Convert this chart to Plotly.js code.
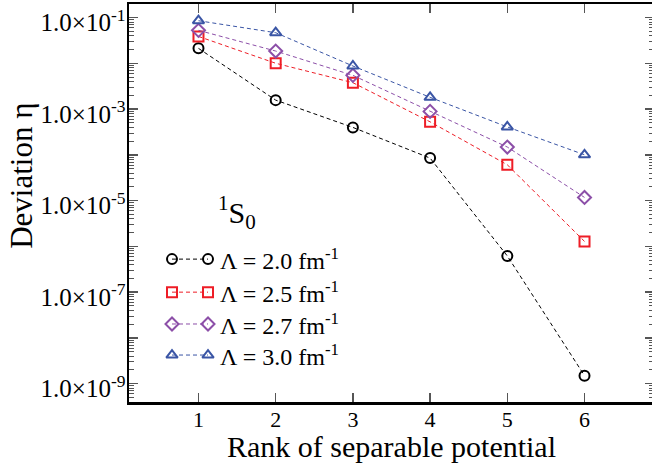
<!DOCTYPE html>
<html><head><meta charset="utf-8">
<script src="https://cdn.plot.ly/plotly-3.0.1.min.js"></script>
<style>html,body{margin:0;padding:0;overflow:hidden;background:#fff}</style>
</head><body><div id="chart"></div>
<script>
const ranks = [1, 2, 3, 4, 5, 6];
const seriesNames = ['Λ = 2.0 fm<sup>-1</sup>', 'Λ = 2.5 fm<sup>-1</sup>', 'Λ = 2.7 fm<sup>-1</sup>', 'Λ = 3.0 fm<sup>-1</sup>'];
const eta_L20 = [0.0214, 1.58e-3, 4.0e-4, 8.55e-5, 6.2e-7, 1.5e-9];
const eta_L25 = [0.039, 0.0101, 3.8e-3, 5.3e-4, 6.1e-5, 1.29e-6];
const eta_L27 = [0.053, 0.0187, 5.5e-3, 8.97e-4, 1.49e-4, 1.18e-5];
const eta_L30 = [0.086, 0.047, 8.8e-3, 1.82e-3, 4.1e-4, 1.01e-4];
const decadeExps = [-9, -8, -7, -6, -5, -4, -3, -2, -1];

const seriesData = [eta_L20, eta_L25, eta_L27, eta_L30];
const colors = ['#000000', '#ee1d26', '#8c4fa8', '#3a55a5'];
const symbols = ['circle-open', 'square-open', 'diamond-open', 'triangle-up-open'];
const FONT = 'Liberation Serif, Times New Roman, serif';

const traces = [];
seriesData.forEach((d, i) => {
  traces.push({
    x: ranks, y: d, type: 'scatter', mode: 'lines+markers', name: seriesNames[i],
    line: {color: colors[i], width: 1, dash: '4px,3px'},
    marker: {symbol: symbols[i], size: 10, color: colors[i], line: {color: colors[i], width: 2}},
    showlegend: false, hoverinfo: 'skip'
  });
});

// custom legend (two markers joined by a dashed line), drawn on an overlay paper-like axis
const legX = [0.0819, 0.1505];
const legY = [0.359, 0.276, 0.196, 0.118];
const annotations = [];
seriesData.forEach((d, i) => {
  traces.push({
    x: legX, y: [legY[i], legY[i]], xaxis: 'x2', yaxis: 'y2', type: 'scatter', mode: 'lines+markers',
    line: {color: colors[i], width: 1, dash: '4px,3px'},
    marker: {symbol: symbols[i], size: 10, color: colors[i], line: {color: colors[i], width: 2}},
    showlegend: false, hoverinfo: 'skip'
  });
  annotations.push({
    xref: 'paper', yref: 'paper', x: 0.1695, y: legY[i], xanchor: 'left', yanchor: 'middle',
    text: seriesNames[i], showarrow: false, font: {family: FONT, size: 24, color: '#000'}
  });
});
annotations.push({
  xref: 'paper', yref: 'paper', x: 0.206, y: 0.477, xanchor: 'center', yanchor: 'middle',
  text: '<sup>1</sup>S<sub>0</sub>', showarrow: false, font: {family: FONT, size: 30, color: '#000'}
});
// y-axis title (placed above the axis centre, as in the reference)
annotations.push({
  xref: 'paper', yref: 'paper', x: -0.204, y: 0.568, xanchor: 'center', yanchor: 'middle',
  text: 'Deviation η', textangle: -90, showarrow: false, font: {family: FONT, size: 31, color: '#000'}
});

const tickvals = decadeExps.map(e => Math.pow(10, e));
const ticktext = decadeExps.map(e => (e % 2 !== 0) ? '1.0×10<sup>' + e + '</sup>' : '');
const minorVals = [];
decadeExps.concat([-10]).forEach(e => { for (let k = 2; k <= 9; k++) minorVals.push(k * Math.pow(10, e)); });

const layout = {
  width: 656, height: 463,
  margin: {l: 129, r: 2, t: 4, b: 61},
  paper_bgcolor: '#fff', plot_bgcolor: '#fff',
  font: {family: FONT, color: '#000'},
  showlegend: false,
  xaxis: {
    range: [0.1, 6.9], tickmode: 'array', tickvals: ranks, ticktext: ranks.map(String),
    ticks: 'inside', ticklen: 9, tickwidth: 1.5, tickcolor: '#555',
    showline: true, linewidth: 2.5, linecolor: '#000', mirror: 'ticks',
    showgrid: false, zeroline: false, ticklabelstandoff: -4,
    tickfont: {family: FONT, size: 22},
    title: {text: 'Rank of separable potential', font: {family: FONT, size: 30}, standoff: 1}
  },
  yaxis: {
    type: 'log', range: [-9.4, -0.7], tickmode: 'array', tickvals: tickvals, ticktext: ticktext,
    ticks: 'inside', ticklen: 9, tickwidth: 1.5, tickcolor: '#555',
    minor: {tickmode: 'array', tickvals: minorVals, ticks: 'inside', ticklen: 5, tickwidth: 1, tickcolor: '#555', showgrid: false},
    showline: true, linewidth: 2.5, linecolor: '#000', mirror: 'ticks',
    showgrid: false, zeroline: false, ticklabelshift: 5, ticklabelstandoff: -4,
    ticklabeloverflow: 'allow',
    tickfont: {family: FONT, size: 25}
  },
  xaxis2: {overlaying: 'x', range: [0, 1], visible: false, fixedrange: true},
  yaxis2: {overlaying: 'y', range: [0, 1], visible: false, fixedrange: true},
  annotations: annotations
};

Plotly.newPlot('chart', traces, layout, {staticPlot: true, displayModeBar: false});
</script></body></html>
